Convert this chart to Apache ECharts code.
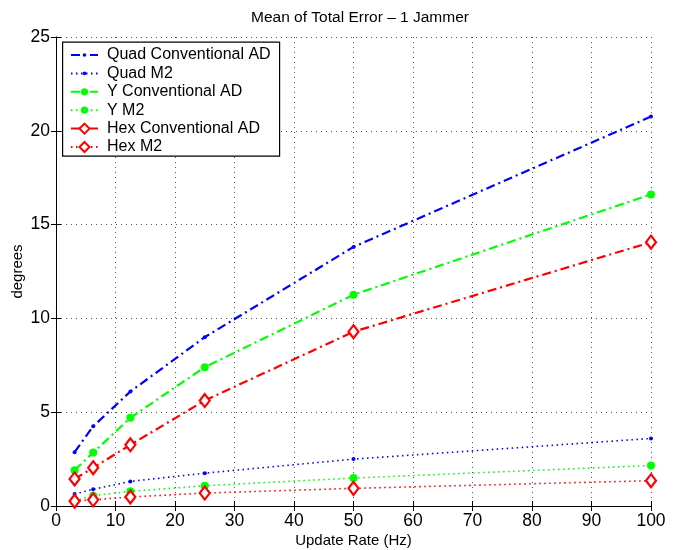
<!DOCTYPE html>
<html>
<head>
<meta charset="utf-8">
<style>
  html, body { margin: 0; padding: 0; background: #fff; }
  #chart { width: 686px; height: 550px; }
</style>
<script src="https://cdn.jsdelivr.net/npm/echarts@6/dist/echarts.min.js"></script>
</head>
<body>
<div id="chart"></div>
<script>
// Update rates (Hz) at which the error was evaluated
const updateRates = [3.125, 6.25, 12.5, 25, 50, 100];

// Mean total error (degrees) per array geometry and method
const quadConventional = [2.87, 4.25, 6.1, 9.0, 13.81, 20.76];
const quadM2 = [0.64, 0.89, 1.31, 1.75, 2.5, 3.6];
const yConventional = [1.91, 2.85, 4.7, 7.4, 11.26, 16.61];
const yM2 = [0.28, 0.55, 0.78, 1.08, 1.49, 2.16];
const hexConventional = [1.44, 2.04, 3.26, 5.62, 9.29, 14.06];
const hexM2 = [0.26, 0.33, 0.48, 0.69, 0.94, 1.35];

const seriesNames = [
  'Quad Conventional AD', 'Quad M2',
  'Y Conventional AD', 'Y M2',
  'Hex Conventional AD', 'Hex M2'
];

const xTicks = [0, 10, 20, 30, 40, 50, 60, 70, 80, 90, 100];
const yTicks = [0, 5, 10, 15, 20, 25];

const FONT = '"Liberation Sans", Arial, sans-serif';
const dashDot = [9, 4, 2, 4];
const dotted = [1.5, 3.5];

function pairs(values) {
  return updateRates.map((x, i) => [x, values[i]]);
}

function makeSeries(name, values, color, conventional, marker) {
  const s = {
    name: name,
    type: 'line',
    data: pairs(values),
    lineStyle: { color: color, width: conventional ? 2.2 : 1.6, type: conventional ? dashDot : dotted },
    itemStyle: { color: color },
    showSymbol: true,
    animation: false,
    z: 3
  };
  if (marker === 'dot') {
    s.symbol = 'circle';
    s.symbolSize = 4;
  } else if (marker === 'filled') {
    s.symbol = 'circle';
    s.symbolSize = 8;
  } else if (marker === 'diamond') {
    s.symbol = 'diamond';
    s.symbolSize = [10, 13];
    s.itemStyle = { color: '#fff', borderColor: color, borderWidth: 2.2 };
  }
  return s;
}

// Legend rows: each marker family gets its own legend so the icon markers
// can have their own size; one framed box is drawn behind all of them.
const LEGEND_LEFT = 62;
const LEGEND_TOP = 41.5;
const ROW_PITCH = 18.4;
const ROW_FIRST = 55;

function legendBlock(names, firstRow, iconHeight) {
  return {
    orient: 'vertical',
    left: 70,
    top: ROW_FIRST + firstRow * ROW_PITCH - 8,
    padding: 0,
    itemGap: ROW_PITCH - 16,
    itemWidth: 27,
    itemHeight: iconHeight,
    selectedMode: false,
    z: 100,
    textStyle: { color: '#000', fontFamily: FONT, fontSize: 16, lineHeight: 16, padding: [0, 0, 0, 4] },
    data: names
  };
}

const chart = echarts.init(document.getElementById('chart'));

const gridLine = { show: true, lineStyle: { color: '#555', type: [1, 4], width: 1 } };
const tickInside = { show: true, inside: true, length: 5, lineStyle: { color: '#000' } };

function frameLine() {
  return { show: true, lineStyle: { color: '#000', width: 1 } };
}

function tickLabel(margin) {
  return {
    color: '#000', fontFamily: FONT, fontSize: 17.5, lineHeight: 13,
    margin: margin, showMinLabel: true, showMaxLabel: true, hideOverlap: false
  };
}

chart.setOption({
  backgroundColor: '#fff',
  animation: false,
  title: {
    text: 'Mean of Total Error \u2013 1 Jammer',
    left: 355,
    top: 5,
    textAlign: 'center',
    textStyle: { color: '#000', fontFamily: FONT, fontSize: 15.5, fontWeight: 'normal' }
  },
  grid: {
    left: 56, right: 35, top: 37, bottom: 44,
    containLabel: false,
    outerBounds: { left: -200, right: -200, top: -200, bottom: -200 }
  },
  graphic: [{
    type: 'rect',
    left: LEGEND_LEFT,
    top: LEGEND_TOP,
    shape: { width: 217, height: 114 },
    style: { fill: '#fff', stroke: '#000', lineWidth: 1.2 },
    z: 90
  }],
  legend: [
    legendBlock(seriesNames.slice(0, 2), 0, 4.5),
    legendBlock(seriesNames.slice(2, 4), 2, 9),
    legendBlock(seriesNames.slice(4, 6), 4, 12.5)
  ],
  xAxis: [
    {
      type: 'value', min: 0, max: 100, interval: 10,
      axisLine: frameLine(), axisTick: tickInside, splitLine: gridLine,
      axisLabel: Object.assign(tickLabel(9), { formatter: v => xTicks.includes(v) ? String(v) : '' }),
      name: 'Update Rate (Hz)', nameLocation: 'middle', nameGap: 27, nameMoveOverlap: false,
      nameTextStyle: { color: '#000', fontFamily: FONT, fontSize: 15 }
    },
    {
      type: 'value', min: 0, max: 100, interval: 10, position: 'top',
      axisLine: frameLine(), axisTick: tickInside, splitLine: { show: false },
      axisLabel: { show: false }
    }
  ],
  yAxis: [
    {
      type: 'value', min: 0, max: 25, interval: 5,
      axisLine: frameLine(), axisTick: tickInside, splitLine: gridLine,
      axisLabel: Object.assign(tickLabel(6), { formatter: v => yTicks.includes(v) ? String(v) : '' }),
      name: 'degrees', nameLocation: 'middle', nameGap: 31, nameRotate: 90, nameMoveOverlap: false,
      nameTextStyle: { color: '#000', fontFamily: FONT, fontSize: 15 }
    },
    {
      type: 'value', min: 0, max: 25, interval: 5, position: 'right',
      axisLine: frameLine(), axisTick: tickInside, splitLine: { show: false },
      axisLabel: { show: false }
    }
  ],
  series: [
    makeSeries(seriesNames[0], quadConventional, '#0000ff', true, 'dot'),
    makeSeries(seriesNames[1], quadM2, '#0000ff', false, 'dot'),
    makeSeries(seriesNames[2], yConventional, '#00ff00', true, 'filled'),
    makeSeries(seriesNames[3], yM2, '#00ff00', false, 'filled'),
    makeSeries(seriesNames[4], hexConventional, '#ff0000', true, 'diamond'),
    makeSeries(seriesNames[5], hexM2, '#ff0000', false, 'diamond')
  ]
});
</script>
</body>
</html>
